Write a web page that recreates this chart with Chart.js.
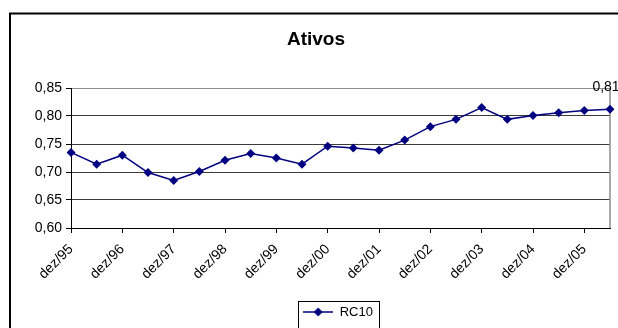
<!DOCTYPE html>
<html>
<head>
<meta charset="utf-8">
<script src="https://cdn.jsdelivr.net/npm/chart.js@4/dist/chart.umd.min.js"></script>
<style>
  html, body { margin: 0; padding: 0; background: #fff; overflow: hidden; }
  #wrap { position: absolute; left: 0; top: 0; width: 640px; height: 340px; }
</style>
</head>
<body>
<div id="wrap"><canvas id="c" width="640" height="340"></canvas></div>
<script>
// Semiannual observations, December / June
const categories = ['dez/95','jun/96','dez/96','jun/97','dez/97','jun/98','dez/98','jun/99',
  'dez/99','jun/00','dez/00','jun/01','dez/01','jun/02','dez/02','jun/03','dez/03','jun/04',
  'dez/04','jun/05','dez/05','jun/06'];
const rc10 = [0.735, 0.714, 0.730, 0.699, 0.685, 0.701, 0.721, 0.733, 0.725, 0.714, 0.746,
  0.743, 0.739, 0.757, 0.781, 0.794, 0.815, 0.794, 0.801, 0.806, 0.810, 0.812];
const seriesName = 'RC10';
const chartTitle = 'Ativos';
const yTicks = { min: 0.60, max: 0.85, step: 0.05 };

const NAVY = '#000080';
const FONT = "'Liberation Sans', Arial, sans-serif";
const LEGEND_FONT = 13, LEGEND_PAD = 8, SWATCH_W = 30;
const fmt = v => v.toFixed(2).replace('.', ',');

// legend swatch: line with a diamond marker
const swatch = document.createElement('canvas');
swatch.width = SWATCH_W; swatch.height = 10;
(function () {
  const g = swatch.getContext('2d');
  g.strokeStyle = NAVY; g.lineWidth = 1.5;
  g.beginPath(); g.moveTo(0, 5); g.lineTo(SWATCH_W, 5); g.stroke();
  g.fillStyle = NAVY;
  g.beginPath(); g.moveTo(15, 0.5); g.lineTo(19.5, 5); g.lineTo(15, 9.5); g.lineTo(10.5, 5); g.closePath(); g.fill();
})();

const frame = {
  id: 'frame',
  beforeDraw(chart) {
    const ctx = chart.ctx;
    ctx.save();
    ctx.fillStyle = '#fff';
    ctx.fillRect(0, 0, chart.width, chart.height);
    ctx.strokeStyle = '#000';
    ctx.lineWidth = 2;
    ctx.strokeRect(10, 13.5, chart.width, chart.height);
    ctx.restore();
  },
  afterUpdate(chart) {
    // legend sits right of centre
    const lg = chart.legend;
    lg.left += 22; lg.right += 22;
    lg.adjustHitBoxes();
  },
  beforeDatasetsDraw(chart) {
    const { ctx, chartArea: a } = chart;
    ctx.save();
    ctx.strokeStyle = '#8c8c8c';
    ctx.lineWidth = 1.5;
    ctx.beginPath();
    ctx.moveTo(a.right, a.top); ctx.lineTo(a.right, a.bottom);
    ctx.stroke();
    ctx.restore();
  },
  afterDatasetsDraw(chart) {
    const ctx = chart.ctx;
    const meta = chart.getDatasetMeta(0);
    const i = meta.data.length - 1;
    const p = meta.data[i];
    ctx.save();
    ctx.font = '14px ' + FONT;
    ctx.fillStyle = '#000';
    ctx.textAlign = 'center';
    ctx.textBaseline = 'middle';
    ctx.fillText(fmt(chart.data.datasets[0].data[i]), p.x - 4, p.y - 22);
    ctx.restore();
  },
  afterDraw(chart) {
    // box round the legend entry
    const ctx = chart.ctx;
    const lg = chart.legend;
    ctx.save();
    ctx.font = LEGEND_FONT + 'px ' + FONT;
    const itemW = SWATCH_W + LEGEND_FONT / 2 + ctx.measureText(seriesName).width;
    const x0 = (lg.left + lg.right) / 2 - itemW / 2;
    const cy = lg.top + LEGEND_PAD + LEGEND_FONT / 2;
    ctx.strokeStyle = '#000';
    ctx.lineWidth = 1;
    ctx.strokeRect(Math.round(x0 - 5) + 0.5, Math.round(cy - 11) + 0.5, Math.round(itemW + 11), 40);
    ctx.restore();
  }
};

new Chart(document.getElementById('c'), {
  type: 'line',
  data: {
    labels: categories,
    datasets: [{
      label: seriesName,
      data: rc10,
      borderColor: NAVY,
      backgroundColor: NAVY,
      borderWidth: 1.5,
      pointStyle: 'rectRot',
      pointRadius: 4.5,
      pointHoverRadius: 4.5,
      pointBackgroundColor: NAVY,
      pointBorderColor: NAVY,
      pointBorderWidth: 0,
      tension: 0
    }]
  },
  options: {
    responsive: false,
    animation: false,
    events: [],
    layout: { padding: { left: 22, right: 30, top: 0, bottom: 11.5 } },
    plugins: {
      title: {
        display: true,
        text: chartTitle,
        color: '#000',
        font: { family: FONT, size: 19, weight: 'bold' },
        padding: { top: 28.6, bottom: 36.6 }
      },
      legend: {
        display: true,
        position: 'bottom',
        labels: {
          color: '#000',
          font: { family: FONT, size: LEGEND_FONT },
          usePointStyle: true,
          pointStyle: swatch,
          pointStyleWidth: SWATCH_W,
          padding: LEGEND_PAD
        }
      },
      tooltip: { enabled: false }
    },
    scales: {
      x: {
        offset: false,
        afterFit(s) { s.height = 69.5; },
        border: { color: '#000', width: 1 },
        grid: {
          drawOnChartArea: false,
          drawTicks: true,
          tickLength: 5,
          tickColor: c => (c.index % 2 === 0 ? '#000' : 'rgba(0,0,0,0)')
        },
        ticks: {
          autoSkip: false,
          minRotation: 45,
          maxRotation: 45,
          padding: 8,
          color: '#000',
          font: { family: FONT, size: 14 },
          callback(v, i) { return i % 2 === 0 ? categories[i] : ''; }
        }
      },
      y: {
        min: yTicks.min,
        max: yTicks.max,
        afterFit(s) { s.width = 49; },
        border: { color: '#000', width: 1 },
        grid: {
          color: c => (c.tick && Math.abs(c.tick.value - yTicks.max) < 1e-6 ? '#8c8c8c' : '#3a3a3a'),
          lineWidth: 1,
          tickLength: 5,
          tickColor: '#000'
        },
        ticks: {
          stepSize: yTicks.step,
          padding: 4,
          color: '#000',
          font: { family: FONT, size: 14 },
          callback: v => fmt(v)
        }
      }
    }
  },
  plugins: [frame]
});
</script>
</body>
</html>
